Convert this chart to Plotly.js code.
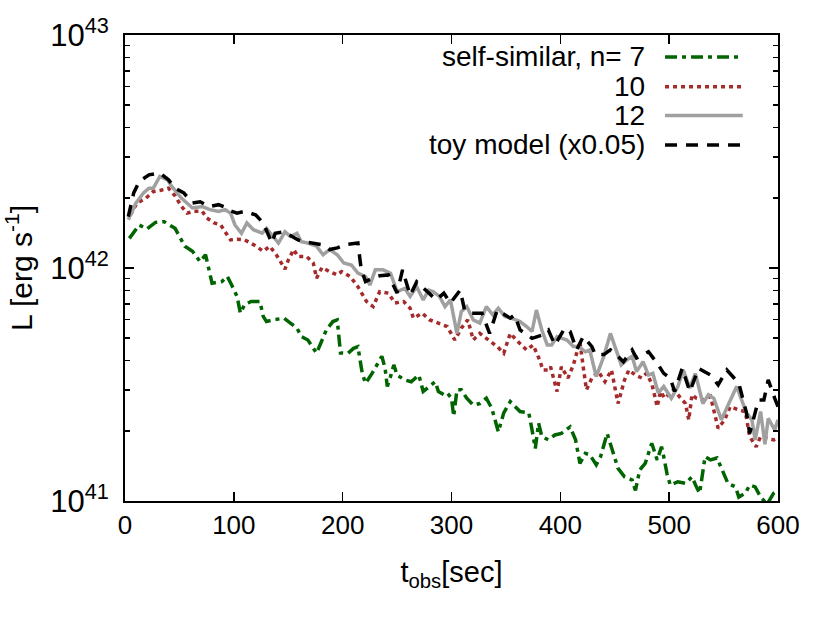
<!DOCTYPE html>
<html>
<head>
<meta charset="utf-8">
<script src="https://cdn.plot.ly/plotly-3.0.1.min.js"></script>
<style>html,body{margin:0;padding:0;background:#fff}#plot{width:830px;height:623px}</style>
</head>
<body>
<div id="plot"></div>
<script>
// Luminosity curves, L in erg/s, t_obs in sec
const t_n7 = [4,13,20,28,36,46,51,55,62,69,74,77,80,89,94,98,103,106,110,116,124,127,130,136,146,152,158,162,168,176,181,185,191,195,198,205,210,214,218,221,227,233,236,239,241,244,247,250,257,263,270,274,280,285,288,293,296,300,302,305,309,314,320,326,332,337,340,343,348,354,363,371,374,377,380,383,389,395,401,409,414,418,423,427,433,437,443,449,453,459,466,469,473,478,484,489,493,495,498,501,508,515,521,525,528,533,538,544,550,554,561,564,570,574,579,584,590,596,600];
const L_n7 = [13.4e41,15.3e41,14.7e41,15.7e41,15.8e41,14.8e41,13.4e41,12.4e41,11.8e41,10.65e41,11.4e41,9.8e41,8.6e41,8.75e41,9.2e41,8.45e41,7.55e41,6.4e41,6.98e41,7.18e41,7.18e41,6.2e41,5.89e41,5.99e41,6.09e41,5.8e41,5.52e41,5.08e41,4.91e41,4.31e41,4.91e41,5.42e41,5.89e41,5.99e41,4.32e41,4.31e41,4.52e41,4.6e41,3.53e41,3.2e41,3.53e41,3.96e41,4.18e41,3.71e41,3.1e41,3.42e41,3.84e41,3.47e41,3.31e41,3.25e41,3.47e41,2.95e41,3.1e41,3.25e41,2.95e41,2.86e41,2.91e41,2.76e41,2.31e41,3.0e41,3.0e41,2.76e41,2.58e41,2.62e41,2.76e41,2.5e41,2.23e41,1.98e41,2.39e41,2.67e41,2.42e41,2.39e41,2.02e41,1.68e41,2.16e41,1.89e41,1.83e41,1.92e41,1.95e41,2.08e41,1.83e41,1.45e41,1.6e41,1.58e41,1.43e41,1.55e41,1.95e41,1.6e41,1.38e41,1.27e41,1.23e41,1.11e41,1.36e41,1.45e41,1.77e41,1.5e41,1.71e41,1.55e41,1.31e41,1.17e41,1.21e41,1.19e41,1.27e41,1.15e41,1.08e41,1.55e41,1.5e41,1.53e41,1.31e41,1.19e41,1.15e41,1.04e41,1.08e41,1.17e41,1.15e41,1.04e41,0.97e41,1.08e41,1.11e41];

const t_n10 = [5,11,19,26,32,40,46,52,57,63,71,75,82,88,92,97,103,110,118,127,133,139,147,150,155,159,167,173,176,181,188,195,199,207,214,222,228,234,242,248,256,262,265,273,280,289,296,303,309,315,320,326,332,342,348,354,361,369,375,381,384,389,391,397,401,407,412,418,421,424,429,435,441,447,453,459,463,469,475,479,484,489,492,496,504,515,518,521,525,531,538,545,551,556,564,570,574,580,584,590,596,600];
const L_n10 = [16.9e41,19.0e41,19.9e41,21.3e41,21.5e41,22.0e41,20.4e41,18.35e41,17.2e41,17.5e41,17.5e41,16.4e41,15.6e41,15.3e41,14.3e41,13.2e41,13.3e41,13.2e41,12.6e41,11.8e41,12.4e41,11.4e41,9.9e41,10.8e41,12.0e41,11.2e41,11.2e41,10.5e41,9.04e41,10.05e41,9.65e41,9.34e41,9.65e41,9.19e41,8.31e41,7.18e41,6.83e41,7.92e41,7.8e41,7.07e41,7.18e41,6.72e41,6.09e41,6.4e41,5.99e41,5.8e41,5.61e41,4.91e41,5.52e41,5.99e41,4.91e41,5.24e41,4.99e41,4.6e41,4.31e41,5.24e41,4.83e41,4.45e41,4.67e41,4.03e41,3.65e41,3.65e41,3.77e41,2.95e41,3.77e41,3.37e41,3.84e41,4.83e41,3.77e41,3.0e41,3.37e41,3.59e41,3.25e41,3.65e41,2.62e41,3.31e41,3.65e41,3.47e41,3.37e41,3.53e41,3.2e41,2.54e41,2.95e41,2.76e41,3.0e41,2.62e41,2.23e41,2.86e41,2.76e41,2.71e41,2.81e41,2.05e41,2.23e41,2.54e41,2.46e41,2.42e41,1.89e41,1.71e41,1.89e41,1.86e41,1.83e41,1.86e41];

const t_n12 = [3,10,17,22,26,32,39,43,52,62,71,78,86,92,97,101,107,112,118,126,130,136,141,147,152,158,162,168,176,182,188,195,201,208,214,221,225,230,237,244,250,257,262,268,274,279,283,289,294,299,305,309,314,320,326,332,338,343,349,355,363,369,374,378,383,388,392,397,401,406,412,417,423,427,433,440,446,450,456,461,466,470,476,481,485,490,495,502,508,513,519,524,531,536,541,548,556,562,571,576,579,584,588,591,597,600];
const L_n12 = [16.1e41,19.0e41,21.0e41,22.0e41,22.0e41,24.7e41,23.9e41,22.4e41,19.9e41,18.1e41,18.35e41,17.8e41,17.5e41,17.8e41,17.2e41,15.3e41,14.1e41,15.6e41,14.6e41,14.1e41,14.8e41,13.65e41,12.8e41,14.3e41,13.65e41,14.1e41,12.96e41,12.8e41,12.4e41,11.4e41,12.0e41,11.4e41,10.5e41,10.3e41,9.5e41,9.19e41,8.45e41,9.82e41,9.82e41,9.5e41,7.92e41,8.18e41,7.55e41,8.31e41,7.3e41,8.04e41,7.92e41,7.55e41,6.83e41,7.3e41,5.24e41,6.5e41,6.83e41,5.99e41,5.8e41,6.83e41,6.29e41,6.72e41,6.2e41,6.09e41,5.89e41,5.61e41,5.34e41,6.6e41,5.42e41,4.67e41,4.67e41,5.08e41,4.99e41,4.91e41,4.6e41,4.6e41,4.37e41,4.45e41,3.42e41,4.18e41,5.24e41,4.6e41,3.84e41,4.03e41,4.18e41,3.59e41,3.96e41,3.47e41,3.53e41,2.91e41,3.1e41,2.76e41,3.1e41,3.65e41,3.05e41,3.53e41,2.62e41,2.86e41,2.76e41,2.23e41,2.67e41,3.1e41,2.39e41,2.23e41,1.83e41,2.42e41,1.75e41,2.26e41,2.02e41,2.23e41];

const t_toy = [3,8,13,22,32,40,46,54,62,69,77,86,94,97,103,110,120,127,135,138,146,153,159,164,173,181,188,195,202,208,214,217,221,230,234,242,250,255,262,268,276,286,293,299,308,312,317,328,335,342,354,358,363,374,383,389,395,404,409,415,421,429,432,440,446,450,458,466,470,481,489,495,501,505,512,519,527,538,545,553,564,571,574,582,587,591,597,600];
const L_toy = [16.6e41,21.0e41,23.5e41,25.1e41,25.6e41,23.9e41,22.0e41,21.0e41,19.0e41,19.25e41,18.35e41,18.7e41,18.1e41,17.6e41,17.2e41,17.5e41,16.9e41,15.6e41,12.8e41,14.1e41,14.3e41,13.65e41,13.2e41,12.96e41,12.8e41,12.6e41,12.0e41,12.2e41,12.6e41,12.7e41,12.8e41,9.9e41,8.75e41,9.16e41,9.26e41,9.34e41,7.82e41,9.82e41,7.64e41,8.72e41,8.04e41,7.3e41,7.8e41,7.07e41,8.04e41,6.6e41,6.4e41,6.4e41,5.24e41,6.6e41,6.09e41,6.29e41,5.42e41,4.99e41,5.15e41,5.42e41,4.67e41,5.52e41,5.34e41,4.45e41,5.08e41,4.6e41,4.25e41,4.25e41,4.45e41,4.31e41,3.96e41,4.45e41,4.11e41,4.37e41,3.9e41,3.53e41,3.37e41,2.95e41,3.71e41,2.95e41,3.71e41,3.47e41,3.15e41,3.65e41,3.2e41,2.39e41,1.95e41,2.71e41,2.71e41,3.31e41,2.76e41,2.54e41];

const seriesNames = ['self-similar, n= 7', '10', '12', 'toy model (x0.05)'];
const xTickVals = [0,100,200,300,400,500,600];
const yTickVals = [1e41, 1e42, 1e43];
const yTickText = ['10<sup>41</sup>', '10<sup>42</sup>', '10<sup>43</sup>'];
const yMinorVals = [2e41,3e41,4e41,5e41,6e41,7e41,8e41,9e41,2e42,3e42,4e42,5e42,6e42,7e42,8e42,9e42];

const styles = [
  {color: 'rgb(0,100,0)', dash: '12px,5px,4px,5px', width: 3.5},
  {color: 'rgb(165,42,42)', dash: '4px,4px', width: 3.5},
  {color: 'rgb(160,160,160)', dash: 'solid', width: 3.5},
  {color: 'rgb(0,0,0)', dash: '12px,9px', width: 3.5}
];
const xs = [t_n7, t_n10, t_n12, t_toy];
const ys = [L_n7, L_n10, L_n12, L_toy];

const traces = xs.map((x, i) => ({
  x: x, y: ys[i], type: 'scatter', mode: 'lines', name: seriesNames[i],
  line: {color: styles[i].color, dash: styles[i].dash, width: styles[i].width},
  showlegend: false, hoverinfo: 'skip'
}));

const FONT = 'Liberation Sans, Arial, sans-serif';
// legend drawn gnuplot-style: right-aligned text with sample line on the right
const rowsY = [0.953, 0.889, 0.827, 0.764];
const annotations = seriesNames.map((s, i) => ({
  text: s, xref: 'paper', yref: 'paper', x: 0.80, y: rowsY[i],
  xanchor: 'right', yanchor: 'middle', showarrow: false,
  font: {family: FONT, size: 28, color: '#000'}
}));
const shapes = styles.map((st, i) => ({
  type: 'line', xref: 'paper', yref: 'paper', x0: 0.827, x1: 0.946, y0: rowsY[i], y1: rowsY[i],
  line: {color: st.color, dash: st.dash, width: st.width}
}));

const layout = {
  width: 830, height: 623,
  margin: {l: 125, r: 52, t: 35, b: 122},
  paper_bgcolor: '#fff', plot_bgcolor: '#fff',
  font: {family: FONT, size: 26, color: '#000'},
  showlegend: false,
  xaxis: {
    range: [0, 600], tickvals: xTickVals, ticks: 'inside', ticklen: 9, tickwidth: 1.5, tickcolor: '#000',
    showline: true, linecolor: '#000', linewidth: 2, mirror: 'ticks', showgrid: false, zeroline: false,
    tickfont: {family: FONT, size: 26},
    title: {text: 't<sub>obs</sub>[sec]', font: {family: FONT, size: 29}, standoff: 22}
  },
  yaxis: {
    type: 'log', range: [41, 43], tickvals: yTickVals, ticktext: yTickText,
    ticks: 'inside', ticklen: 9, tickwidth: 1.5, tickcolor: '#000', ticklabelstandoff: 8,
    minor: {tickvals: yMinorVals, ticks: 'inside', ticklen: 5, tickwidth: 1.5, tickcolor: '#000', showgrid: false},
    showline: true, linecolor: '#000', linewidth: 2, mirror: 'ticks', showgrid: false, zeroline: false,
    tickfont: {family: FONT, size: 31},
    title: {text: 'L [erg s<sup>-1</sup>]', font: {family: FONT, size: 30}, standoff: 12}
  },
  annotations: annotations,
  shapes: shapes
};

Plotly.newPlot('plot', traces, layout, {displayModeBar: false, staticPlot: true});
</script>
</body>
</html>
